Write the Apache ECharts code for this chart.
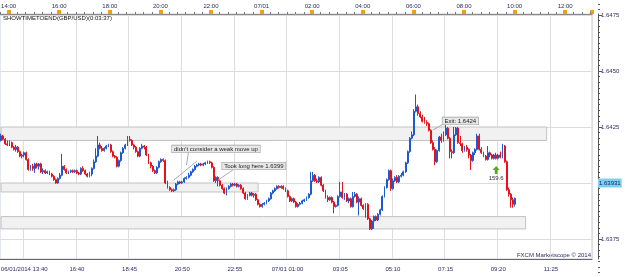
<!DOCTYPE html>
<html>
<head>
<meta charset="utf-8">
<script src="https://cdn.jsdelivr.net/npm/echarts@6/dist/echarts.min.js"></script>
<style>
html, body { margin: 0; padding: 0; background: #fff; }
#main { width: 625px; height: 277px; }
</style>
</head>
<body>
<div id="main"></div>
<script>
// 5 minute GBP/USD candles, [open, close, low, high]
var candles = [
[1.6419,1.6421,1.64185,1.6422],[1.6421,1.64195,1.6419,1.64215],[1.64195,1.64175,1.6417,1.642],[1.64175,1.6417,1.64165,1.6419],
[1.6417,1.6418,1.64165,1.6419],[1.6418,1.6416,1.64155,1.64185],[1.6416,1.6415,1.64145,1.64165],[1.6415,1.6416,1.6414,1.6417],
[1.6416,1.6414,1.64135,1.64165],[1.6414,1.6412,1.64115,1.64145],[1.6412,1.64125,1.6411,1.6413],[1.64125,1.64135,1.64115,1.6414],
[1.64135,1.64105,1.641,1.6414],[1.64105,1.6406,1.64055,1.6411],[1.6406,1.64075,1.64055,1.6408],[1.64075,1.64065,1.64055,1.64085],
[1.64065,1.64085,1.64045,1.6409],[1.64085,1.64075,1.64065,1.6409],[1.64075,1.64085,1.6406,1.6409],[1.64085,1.6405,1.64045,1.6409],
[1.6405,1.64055,1.6404,1.64065],[1.64055,1.64045,1.6404,1.6406],[1.64045,1.6405,1.6404,1.64055],[1.6405,1.6404,1.64035,1.64055],
[1.6404,1.6403,1.64025,1.64045],[1.6403,1.64015,1.6401,1.64035],[1.64015,1.64,1.63997,1.6402],[1.64,1.6402,1.63997,1.64025],
[1.6402,1.64035,1.64015,1.64045],[1.64035,1.64075,1.6403,1.6413],[1.64075,1.6406,1.64055,1.6408],[1.6406,1.64045,1.6404,1.64065],
[1.64045,1.6405,1.6404,1.64055],[1.6405,1.64055,1.64045,1.6406],[1.64055,1.6405,1.64045,1.6406],[1.6405,1.64055,1.64045,1.6406],
[1.64055,1.64045,1.6404,1.6406],[1.64045,1.6404,1.64035,1.6405],[1.6404,1.64065,1.64035,1.6407],[1.64065,1.64055,1.6405,1.64075],
[1.64055,1.6404,1.64035,1.6406],[1.6404,1.6403,1.64025,1.64045],[1.6403,1.6404,1.64025,1.6405],[1.6404,1.64065,1.6403,1.6407],
[1.64065,1.64095,1.6406,1.64105],[1.64095,1.6412,1.6409,1.64155],[1.6412,1.6417,1.64115,1.6421],[1.6417,1.64155,1.6415,1.6418],
[1.64155,1.64145,1.6414,1.64165],[1.64145,1.64155,1.6414,1.6416],[1.64155,1.64165,1.6415,1.6417],[1.64165,1.6417,1.6416,1.64175],
[1.6417,1.6414,1.64135,1.64175],[1.6414,1.6412,1.64115,1.64145],[1.6412,1.64115,1.6411,1.64125],[1.64115,1.64075,1.6407,1.6412],
[1.64075,1.641,1.6407,1.64105],[1.641,1.64135,1.64095,1.6414],[1.64135,1.64155,1.6413,1.6416],[1.64155,1.6417,1.6415,1.64175],
[1.6417,1.64195,1.64165,1.6421],[1.64195,1.6419,1.64185,1.6421],[1.6419,1.6417,1.64165,1.64195],[1.6417,1.6416,1.6415,1.64175],
[1.6416,1.6414,1.64135,1.64165],[1.6414,1.6412,1.64115,1.64145],[1.6412,1.64155,1.64115,1.6416],[1.64155,1.64165,1.6415,1.64175],
[1.64165,1.6416,1.6415,1.6417],[1.6416,1.64125,1.6412,1.64165],[1.64125,1.6409,1.64085,1.6413],[1.6409,1.64075,1.64065,1.64095],
[1.64075,1.64055,1.6405,1.6408],[1.64055,1.64045,1.6404,1.6406],[1.64045,1.6407,1.6404,1.64075],[1.6407,1.64095,1.64065,1.641],
[1.64095,1.64105,1.6409,1.6411],[1.64105,1.641,1.64095,1.6411],[1.641,1.64,1.63995,1.64105],[1.64,1.6398,1.63975,1.6401],
[1.6398,1.6397,1.63965,1.63985],[1.6397,1.63965,1.6396,1.63975],[1.63965,1.6397,1.6396,1.63975],[1.6397,1.63995,1.63965,1.64],
[1.63995,1.64005,1.6399,1.6401],[1.64005,1.64,1.63995,1.6401],[1.64,1.64005,1.63995,1.6401],[1.64005,1.6402,1.64,1.64025],
[1.6402,1.64025,1.64015,1.6403],[1.64025,1.64035,1.6402,1.64045],[1.64035,1.6405,1.6403,1.64055],[1.6405,1.6406,1.64045,1.64065],
[1.6406,1.64075,1.64055,1.6408],[1.64075,1.6408,1.6407,1.64085],[1.6408,1.64085,1.64075,1.6409],[1.64085,1.6408,1.64075,1.6409],
[1.6408,1.64085,1.64075,1.6409],[1.64085,1.6409,1.6408,1.64095],[1.6409,1.64095,1.64085,1.641],[1.64095,1.6409,1.64085,1.641],
[1.6409,1.6407,1.64065,1.64095],[1.6407,1.6401,1.64005,1.64075],[1.6401,1.64025,1.64,1.6403],[1.64025,1.6401,1.63985,1.6403],
[1.6401,1.6399,1.63985,1.64015],[1.6399,1.63975,1.6397,1.63995],[1.63975,1.63955,1.6395,1.6398],[1.63955,1.63975,1.63945,1.6398],
[1.63975,1.63985,1.6397,1.6399],[1.63985,1.63995,1.6398,1.64],[1.63995,1.6399,1.63985,1.64],[1.6399,1.63995,1.63985,1.64],
[1.63995,1.63985,1.6398,1.64],[1.63985,1.6399,1.6398,1.63995],[1.6399,1.63975,1.6397,1.63995],[1.63975,1.63955,1.6395,1.6398],
[1.63955,1.6393,1.63925,1.6396],[1.6393,1.63945,1.63925,1.6395],[1.63945,1.63955,1.6394,1.6396],[1.63955,1.63945,1.6394,1.6396],
[1.63945,1.6395,1.63935,1.63955],[1.6395,1.63925,1.6392,1.63955],[1.63925,1.63905,1.639,1.6393],[1.63905,1.63895,1.6389,1.6391],
[1.63895,1.63905,1.6389,1.6391],[1.63905,1.6391,1.639,1.63915],[1.6391,1.6392,1.63905,1.63925],[1.6392,1.6393,1.63915,1.63935],
[1.6393,1.63955,1.63925,1.6396],[1.63955,1.63965,1.6395,1.6397],[1.63965,1.63975,1.6396,1.6398],[1.63975,1.63985,1.6397,1.6399],
[1.63985,1.6398,1.63975,1.6399],[1.6398,1.63985,1.63975,1.6399],[1.63985,1.63975,1.6397,1.6399],[1.63975,1.63965,1.6396,1.6398],
[1.63965,1.6394,1.63935,1.6397],[1.6394,1.6392,1.63915,1.63945],[1.6392,1.6393,1.63915,1.63935],[1.6393,1.63915,1.6391,1.63935],
[1.63915,1.63895,1.6389,1.6392],[1.63895,1.63905,1.6389,1.6391],[1.63905,1.6391,1.639,1.63915],[1.6391,1.6392,1.63905,1.63925],
[1.6392,1.63925,1.63915,1.6393],[1.63925,1.63935,1.6392,1.6394],[1.63935,1.6395,1.6393,1.63955],[1.6395,1.6401,1.63945,1.6405],
[1.6401,1.64035,1.64005,1.6405],[1.64035,1.6401,1.64005,1.6404],[1.6401,1.64005,1.64,1.6402],[1.64005,1.64025,1.64,1.6403],
[1.64025,1.6399,1.63985,1.6403],[1.6399,1.63965,1.6396,1.63995],[1.63965,1.63935,1.6393,1.6397],[1.63935,1.63925,1.63915,1.63945],
[1.63925,1.63935,1.6392,1.6394],[1.63935,1.63915,1.6391,1.6394],[1.63915,1.63895,1.63865,1.6392],[1.63895,1.639,1.6389,1.63905],
[1.639,1.6394,1.63895,1.63945],[1.6394,1.6396,1.63935,1.64005],[1.6396,1.63935,1.6393,1.64005],[1.63935,1.6395,1.63925,1.63955],
[1.6395,1.6392,1.63915,1.63955],[1.6392,1.6393,1.6391,1.63935],[1.6393,1.63895,1.6389,1.63935],[1.63895,1.6394,1.6389,1.6396],
[1.6394,1.6395,1.63935,1.6396],[1.6395,1.63915,1.6391,1.63955],[1.63915,1.6393,1.63855,1.6394],[1.6393,1.639,1.63895,1.63935],
[1.639,1.63885,1.6388,1.63905],[1.63885,1.63905,1.63845,1.6391],[1.63905,1.6384,1.63835,1.6391],[1.6384,1.63795,1.6379,1.63845],
[1.63795,1.6383,1.6379,1.63835],[1.6383,1.6385,1.63795,1.63855],[1.6385,1.63835,1.6383,1.63855],[1.63835,1.6386,1.6383,1.63865],
[1.6386,1.6388,1.63855,1.63885],[1.6388,1.6394,1.63875,1.63945],[1.6394,1.6398,1.63935,1.63985],[1.6398,1.64015,1.63975,1.6402],
[1.64015,1.64055,1.6401,1.6406],[1.64055,1.63975,1.63965,1.6406],[1.63975,1.6401,1.6397,1.6402],[1.6401,1.64025,1.64005,1.6403],
[1.64025,1.64005,1.64,1.64035],[1.64005,1.6403,1.64,1.64035],[1.6403,1.64035,1.64025,1.64045],[1.64035,1.6405,1.6403,1.64055],
[1.6405,1.6409,1.64045,1.64095],[1.6409,1.6414,1.64085,1.64145],[1.6414,1.642,1.64135,1.64205],[1.642,1.64215,1.64195,1.6423],
[1.64215,1.6432,1.6421,1.6433],[1.6432,1.6434,1.64315,1.64395],[1.6434,1.6431,1.643,1.6435],[1.6431,1.64295,1.6429,1.6432],
[1.64295,1.64275,1.6427,1.64305],[1.64275,1.6427,1.64265,1.64295],[1.6427,1.64265,1.64255,1.6428],[1.64265,1.64235,1.6423,1.6427],
[1.64235,1.6418,1.64175,1.6424],[1.6418,1.6415,1.64145,1.6419],[1.6415,1.64095,1.6408,1.6416],[1.64095,1.64145,1.6409,1.6415],
[1.64145,1.64205,1.6414,1.6421],[1.64205,1.6419,1.6418,1.6422],[1.6419,1.64215,1.64185,1.6423],[1.64215,1.64245,1.6421,1.6426],
[1.64245,1.642,1.64195,1.6425],[1.642,1.6414,1.6411,1.64205],[1.6414,1.64135,1.6411,1.6415],[1.64135,1.64215,1.6413,1.6425],
[1.64215,1.64245,1.6421,1.6425],[1.64245,1.6418,1.64175,1.6425],[1.6418,1.64175,1.64165,1.6421],[1.64175,1.64145,1.64135,1.6418],
[1.64145,1.6416,1.6414,1.64165],[1.6416,1.6415,1.6414,1.6417],[1.6415,1.64125,1.6411,1.64155],[1.64125,1.641,1.64058,1.6413],
[1.641,1.64135,1.64095,1.6414],[1.64135,1.6415,1.64125,1.64155],[1.6415,1.6421,1.64145,1.6422],[1.6421,1.6415,1.64145,1.6422],
[1.6415,1.64135,1.6413,1.6416],[1.64135,1.6412,1.64115,1.6414],[1.6412,1.64105,1.641,1.64125],[1.64105,1.64135,1.641,1.64165],
[1.64135,1.64125,1.64115,1.6414],[1.64125,1.6411,1.64105,1.6413],[1.6411,1.64125,1.64105,1.6413],[1.64125,1.6411,1.64105,1.64135],
[1.6411,1.64125,1.64105,1.6413],[1.64125,1.64115,1.6411,1.6414],[1.64115,1.64165,1.6411,1.64175],[1.64165,1.64095,1.6409,1.6417],
[1.64095,1.6397,1.63965,1.641],[1.6397,1.6395,1.6394,1.6398],[1.6395,1.63925,1.6389,1.63955],[1.63925,1.63905,1.6389,1.63935],
[1.63905,1.63931,1.63895,1.63935]
];

// bottom axis labels, one every 25 candles, first one at candle 11
var bottomTicks = ['06/01/2014 13:40', '16:40', '18:45', '20:50', '22:55', '07/01 01:00',
                   '03:05', '05:10', '07:15', '09:20', '11:25'];
var firstTick = 11, tickStep = 25, slotCount = 281;

// top axis (hours)
var topTicks = ['14:00', '16:00', '18:00', '20:00', '22:00', '07/01', '02:00',
                '04:00', '06:00', '08:00', '10:00', '12:00'];

// shaded zones: [last candle slot, low, high]
var zones = [
    [259, 1.6419, 1.6425],
    [122, 1.6396, 1.6400],
    [249, 1.63795, 1.6385]
];

// text notes: [text, candle slot, price]
var notes = [
    ["didn't consider a weak move up", 102, 1.64152],
    ['Took long here 1.6399', 120, 1.64076],
    ['Exit: 1.6424', 218, 1.64277]
];

// drawn lines: [[slot, price], [slot, price]]
var drawnLines = [
    [[82, 1.64013], [93, 1.64098]],
    [[88, 1.6408], [89, 1.64138]],
    [[103, 1.64013], [112, 1.64071]],
    [[205, 1.64237], [211, 1.64268]]
];

var signal = {text: '159.6', slot: 235, price: 1.64058};

var cats = [];
for (var i = 0; i < slotCount; i++) {
    cats.push(String(i));
}
var lastClose = candles[candles.length - 1][1];

function isLabelSlot(i) {
    return i >= firstTick && (i - firstTick) % tickStep === 0;
}

var myChart = echarts.init(document.getElementById('main'));
var font = 'Liberation Sans';
var axisText = '#2c2c66';

var option = {
    animation: false,
    textStyle: {fontFamily: font},
    title: {
        text: 'SHOWTIMETOEND(GBP/USD)(0:03:37)',
        left: 3, top: 15, padding: 0,
        textStyle: {fontSize: 6, fontWeight: 'normal', color: '#111', fontFamily: font}
    },
    graphic: [{
        type: 'text', right: 34, top: 252,
        style: {text: 'FXCM Marketscope \u00a9 2014', fontSize: 6, fill: axisText, fontFamily: font}
    }],
    grid: [
        {left: 0, right: 33, top: -41, height: 336, outerBoundsMode: 'none', containLabel: false},
        {left: 0, right: 33, top: 14, bottom: 18, show: true, borderColor: '#c8cfdf', borderWidth: 1,
            outerBoundsMode: 'none', containLabel: false},
        {left: -42, right: 33, top: 13, height: 1, outerBoundsMode: 'none', containLabel: false}
    ],
    xAxis: [
        {gridIndex: 0, type: 'category', data: cats, show: false},
        {
            gridIndex: 1, type: 'category', data: cats, position: 'bottom',
            axisLine: {lineStyle: {color: '#666'}},
            axisTick: {alignWithLabel: true, length: 2, lineStyle: {color: '#666'},
                interval: function (i) { return i % 5 === 1; }},
            axisLabel: {
                fontSize: 6, color: axisText, margin: 7,
                interval: function (i) { return isLabelSlot(i); },
                formatter: function (v, i) { return bottomTicks[(i - firstTick) / tickStep] || ''; }
            },
            splitLine: {show: true, interval: function (i) { return isLabelSlot(i); },
                lineStyle: {color: '#dedede'}}
        },
        {
            gridIndex: 1, type: 'category', data: cats, position: 'bottom',
            axisLine: {show: false}, axisLabel: {show: false}, splitLine: {show: false},
            axisTick: {alignWithLabel: true, length: 5, lineStyle: {color: '#666'},
                interval: function (i) { return isLabelSlot(i); }}
        },
        {
            gridIndex: 2, type: 'value', position: 'top', min: 12, max: 37.06, interval: 2,
            axisLine: {lineStyle: {color: '#8a8a8a'}},
            axisTick: {length: 4, lineStyle: {color: '#f0a010', width: 4}},
            minorTick: {show: true, splitNumber: 6, length: 2, lineStyle: {color: '#777'}},
            axisLabel: {fontSize: 6, color: axisText, margin: 4,
                formatter: function (v) { return topTicks[(v - 14) / 2] || ''; }},
            splitLine: {show: false}
        }
    ],
    yAxis: [
        {
            gridIndex: 0, type: 'value', position: 'right', offset: 6,
            min: 1.6350, max: 1.6500, interval: 0.0025,
            axisLine: {show: false},
            axisTick: {show: true, length: 4, lineStyle: {color: '#555'}},
            minorTick: {show: true, splitNumber: 10, length: 2, lineStyle: {color: '#555'}},
            axisLabel: {fontSize: 6, color: axisText, margin: 3,
                formatter: function (v) { return v.toFixed(4); }},
            splitLine: {show: true, lineStyle: {color: '#dcdcdc'}}
        },
        {
            gridIndex: 1, type: 'value', position: 'right', offset: 6, min: 0, max: 1,
            axisLine: {show: true, lineStyle: {color: '#555'}},
            axisTick: {show: false}, axisLabel: {show: false}, splitLine: {show: false}
        },
        {gridIndex: 2, type: 'value', show: false}
    ],
    series: [
        {
            name: 'zones', type: 'line', xAxisIndex: 0, yAxisIndex: 0, data: [], z: 1,
            markArea: {
                silent: true,
                itemStyle: {color: '#f1f1f1', borderColor: '#c2c2c2', borderWidth: 1},
                data: zones.map(function (z) {
                    return [{xAxis: 0, yAxis: z[2]}, {xAxis: z[0], yAxis: z[1]}];
                })
            }
        },
        {
            name: 'GBP/USD', type: 'candlestick', xAxisIndex: 0, yAxisIndex: 0, z: 3,
            data: candles,
            barWidth: 1.4,
            itemStyle: {
                color: '#1450c8', color0: '#e5121b',
                borderColor: '#1d5ad0', borderColor0: '#e5121b', borderWidth: 1
            },
            markLine: {
                silent: true, symbol: 'none',
                data: [{yAxis: lastClose, lineStyle: {color: 'rgba(0,0,0,0)', width: 0},
                    label: {show: true, position: 'end', distance: 6, formatter: lastClose.toFixed(5),
                        fontSize: 6, color: '#10204a', backgroundColor: '#7dd0f4', padding: [2, 1, 1, 1]}}]
            }
        },
        {
            name: 'notes', type: 'line', xAxisIndex: 0, yAxisIndex: 0, data: [], z: 4,
            markLine: {
                silent: true, symbol: 'none',
                lineStyle: {color: '#a3abc4', width: 1, type: 'solid'},
                label: {show: false},
                data: drawnLines.map(function (l) {
                    return [{coord: l[0]}, {coord: l[1]}];
                })
            },
            markPoint: {
                silent: true,
                data: notes.map(function (n) {
                    return {
                        coord: [n[1], n[2]], symbol: 'rect', symbolSize: 1,
                        itemStyle: {color: 'rgba(0,0,0,0)'},
                        label: {show: true, position: 'inside', formatter: n[0], fontSize: 6,
                            color: '#1a1a1a', backgroundColor: '#e8e8e8', borderColor: '#9a9a9a',
                            borderWidth: 0.6, padding: [1, 2, 0, 2]}
                    };
                }).concat([{
                    coord: [signal.slot, signal.price],
                    symbol: 'path://M5,0 L10,5 L7,5 L7,10 L3,10 L3,5 L0,5 Z', symbolSize: [7, 8],
                    itemStyle: {color: '#5aaa1e'},
                    label: {show: true, position: 'bottom', distance: 1, formatter: signal.text,
                        fontSize: 6, color: '#333'}
                }])
            }
        }
    ]
};

myChart.setOption(option);
</script>
</body>
</html>
